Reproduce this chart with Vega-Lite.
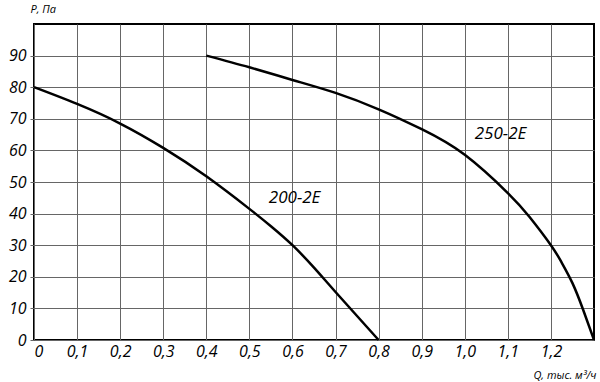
{
  "$schema": "https://vega.github.io/schema/vega-lite/v6.json",
  "width": 560,
  "height": 316,
  "autosize": {"type": "none"},
  "padding": {"left": 34, "top": 24, "right": 6, "bottom": 42},
  "background": "white",
  "config": {
    "view": {"stroke": "#000", "strokeWidth": 2},
    "font": "Open Sans",
    "axis": {
      "labelFont": "Open Sans",
      "labelFontStyle": "italic",
      "labelFontSize": 16,
      "labelColor": "#000",
      "labelOverlap": false,
      "titleFont": "Open Sans",
      "titleFontStyle": "italic",
      "titleFontWeight": "normal",
      "titleFontSize": 11,
      "titleColor": "#000",
      "gridColor": "#666",
      "gridWidth": 1,
      "gridOpacity": 1,
      "domain": false
    }
  },
  "datasets": {
    "curves": [
      {"q": 0, "p": 80, "s": "200-2E"},
      {"q": 0.1, "p": 74.7, "s": "200-2E"},
      {"q": 0.2, "p": 68.5, "s": "200-2E"},
      {"q": 0.3, "p": 60.8, "s": "200-2E"},
      {"q": 0.4, "p": 51.8, "s": "200-2E"},
      {"q": 0.5, "p": 41.5, "s": "200-2E"},
      {"q": 0.55, "p": 36, "s": "200-2E"},
      {"q": 0.6, "p": 30, "s": "200-2E"},
      {"q": 0.65, "p": 22.9, "s": "200-2E"},
      {"q": 0.7, "p": 15.2, "s": "200-2E"},
      {"q": 0.8, "p": 0, "s": "200-2E"},
      {"q": 0.4, "p": 90, "s": "250-2E"},
      {"q": 0.5, "p": 86.3, "s": "250-2E"},
      {"q": 0.6, "p": 82.3, "s": "250-2E"},
      {"q": 0.7, "p": 78.2, "s": "250-2E"},
      {"q": 0.8, "p": 73, "s": "250-2E"},
      {"q": 0.9, "p": 66.7, "s": "250-2E"},
      {"q": 1.0, "p": 58.6, "s": "250-2E"},
      {"q": 1.1, "p": 46.5, "s": "250-2E"},
      {"q": 1.15, "p": 39, "s": "250-2E"},
      {"q": 1.2, "p": 30, "s": "250-2E"},
      {"q": 1.225, "p": 24.5, "s": "250-2E"},
      {"q": 1.25, "p": 18, "s": "250-2E"},
      {"q": 1.275, "p": 9.5, "s": "250-2E"},
      {"q": 1.3, "p": 0, "s": "250-2E"}
    ],
    "labels": [
      {"q": 0.605, "p": 45, "t": "200-2E"},
      {"q": 1.083, "p": 65.3, "t": "250-2E"}
    ]
  },
  "encoding": {
    "x": {
      "field": "q", "type": "quantitative",
      "scale": {"domain": [0, 1.3], "nice": false, "zero": true},
      "axis": {
        "values": [0, 0.1, 0.2, 0.3, 0.4, 0.5, 0.6, 0.7, 0.8, 0.9, 1.0, 1.1, 1.2],
        "labelExpr": "datum.value == 0 ? '0' : replace(format(datum.value, '.1f'), '.', ',')",
        "labelOverlap": false,
        "ticks": false,
        "labelPadding": 3,
        "title": "Q, тыс. м³/ч",
        "titleAlign": "right",
        "titleAnchor": "end",
        "titleX": 562,
        "titleY": 40,
        "titleBaseline": "bottom"
      }
    },
    "y": {
      "field": "p", "type": "quantitative",
      "scale": {"domain": [0, 100], "nice": false},
      "axis": {
        "values": [0, 10, 20, 30, 40, 50, 60, 70, 80, 90],
        "labelOverlap": false,
        "ticks": true,
        "tickSize": 4,
        "tickColor": "#666",
        "labelPadding": 4,
        "title": "P, Па",
        "titleAngle": 0,
        "titleAlign": "left",
        "titleX": -4,
        "titleY": -10,
        "titleBaseline": "bottom"
      }
    }
  },
  "layer": [
    {
      "data": {"name": "curves"},
      "mark": {"type": "line", "color": "#000", "strokeWidth": 2.5, "interpolate": "natural"},
      "encoding": {
        "detail": {"field": "s"}
      }
    },
    {
      "data": {"name": "labels"},
      "mark": {"type": "text", "font": "Open Sans", "fontStyle": "italic", "fontSize": 17, "color": "#000"},
      "encoding": {
        "text": {"field": "t"}
      }
    }
  ]
}
